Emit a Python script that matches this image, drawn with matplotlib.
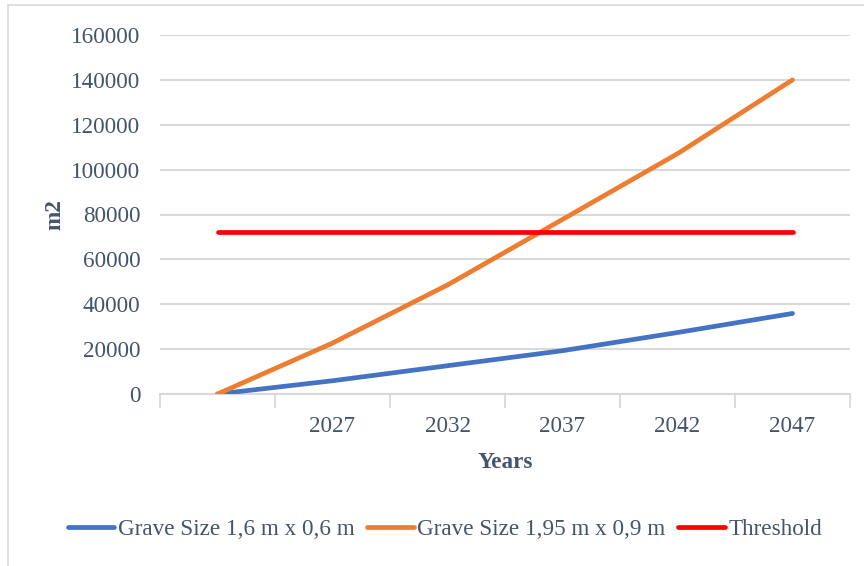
import matplotlib
matplotlib.use("Agg")
import matplotlib.pyplot as plt
from matplotlib.lines import Line2D
import numpy as np

categories = ["", "2027", "2032", "2037", "2042", "2047"]
grave_small = [0, 5900, 12600, 19300, 27400, 35900]
grave_large = [0, 22700, 48600, 77800, 107100, 140000]
threshold = [72000, 72000, 72000, 72000, 72000, 72000]
y_ticks = [0, 20000, 40000, 60000, 80000, 100000, 120000, 140000, 160000]

plt.rcParams['font.family'] = ['Liberation Serif', 'DejaVu Serif']
text_color = "#44546A"
grid_color = "#D9D9D9"
fs = 16.7

fig = plt.figure(figsize=(8.64, 5.66), dpi=100)
ax = fig.add_axes([160/864, 1-394/566, 690/864, 359/566])

x = np.arange(len(categories))
ax.plot(x, grave_small, color="#4472C4", lw=3.4, solid_capstyle="round", label="Grave Size 1,6 m x 0,6 m", zorder=3)
ax.plot(x, grave_large, color="#ED7D31", lw=3.4, solid_capstyle="round", label="Grave Size 1,95 m x 0,9 m", zorder=3)
ax.plot(x, threshold, color="#FF0000", lw=3.4, solid_capstyle="round", label="Threshold", zorder=3)

ax.set_xlim(-0.5, len(categories) - 0.5)
ax.set_ylim(0, 160000)
ax.set_yticks(y_ticks)
ax.set_yticklabels([str(v) for v in y_ticks])
ax.set_xticks(x)
ax.set_xticklabels(categories)
ax.set_xticks(np.arange(-0.5, len(categories)), minor=True)
ax.tick_params(axis="x", which="major", length=0, pad=16, labelsize=fs, labelcolor=text_color)
ax.tick_params(axis="x", which="minor", length=10, width=1.3, color=grid_color)
ax.tick_params(axis="y", length=0, pad=14, labelsize=fs, labelcolor=text_color)

ax.yaxis.grid(True, color=grid_color, lw=1.5)
ax.set_axisbelow(True)
for s in ["top", "right", "left"]:
    ax.spines[s].set_visible(False)
ax.spines["bottom"].set_color(grid_color)
ax.spines["bottom"].set_linewidth(1.5)
ax.spines["bottom"].set_zorder(1)

fig.text(505/864, 1-462/566, "Years", ha="center", va="center", fontsize=fs,
         fontweight="bold", color=text_color)
fig.text(55/864, 1-215/566, "m2", ha="center", va="center", fontsize=fs,
         fontweight="bold", color=text_color, rotation=90)

handles, labels = ax.get_legend_handles_labels()
leg = fig.legend(handles, labels, loc="center", bbox_to_anchor=(445/864, 1-529/566),
                 ncol=3, frameon=False, fontsize=fs, handlelength=2.0,
                 handletextpad=0.15, columnspacing=0.55, labelcolor=text_color)

# chart-area border (left and top)
fig.add_artist(Line2D([8/864, 8/864], [0, 1-5/566], color=grid_color, lw=1.2))
fig.add_artist(Line2D([8/864, 1], [1-5/566, 1-5/566], color=grid_color, lw=1.2))

fig.savefig("out.png", dpi=100)
